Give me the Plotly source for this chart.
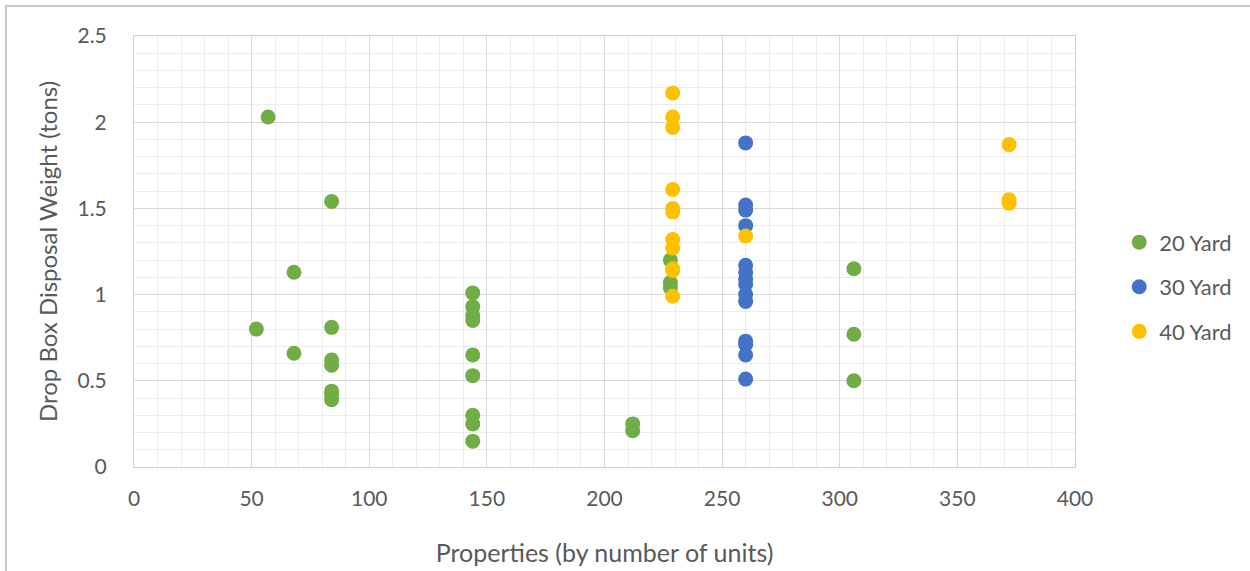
import plotly.graph_objects as go

# ---- data ----
green_x = [57, 84, 68, 52, 68, 84, 84, 84, 84, 84, 84,
           144, 144, 144, 144, 144, 144, 144, 144, 144,
           212, 212, 228, 228, 228, 306, 306, 306]
green_y = [2.03, 1.54, 1.13, 0.80, 0.66, 0.81, 0.62, 0.59, 0.44, 0.42, 0.39,
           1.01, 0.93, 0.88, 0.85, 0.65, 0.53, 0.30, 0.25, 0.15,
           0.25, 0.21, 1.20, 1.07, 1.04, 1.15, 0.77, 0.50]

blue_x = [260] * 14
blue_y = [1.88, 1.52, 1.49, 1.40, 1.17, 1.13, 1.09, 1.06, 1.00, 0.96, 0.73, 0.71, 0.65, 0.51]

yellow_x = [229] * 11 + [260] + [372, 372, 372]
yellow_y = [2.17, 2.03, 1.97, 1.61, 1.50, 1.48, 1.32, 1.27, 1.15, 1.14, 0.99,
            1.34, 1.87, 1.55, 1.53]

series_names = ["20 Yard", "30 Yard", "40 Yard"]
colors = ["#70AD47", "#4472C4", "#FFC000"]

font_family = "Lato, Carlito, Calibri, sans-serif"
text_color = "#595959"

fig = go.Figure()
for name, xs, ys, c in zip(series_names, [green_x, blue_x, yellow_x],
                           [green_y, blue_y, yellow_y], colors):
    fig.add_trace(go.Scatter(x=xs, y=ys, mode="markers", name=name,
                             legendgroup=name,
                             marker=dict(size=15, color=c, line=dict(width=0))))

fig.update_layout(
    width=1250, height=571,
    margin=dict(l=134, r=175, t=36, b=104, autoexpand=False),
    paper_bgcolor="white", plot_bgcolor="white",
    font=dict(family=font_family, color=text_color, size=21),
    legend=dict(x=1.047, y=0.418, xanchor="left", yanchor="middle",
                font=dict(size=22, color=text_color),
                tracegroupgap=13, itemsizing="trace", itemwidth=30,
                bgcolor="rgba(0,0,0,0)"),
    showlegend=True,
)

fig.update_xaxes(
    range=[0, 400], dtick=50, tick0=0,
    showgrid=True, gridcolor="#d9d9d9", gridwidth=1,
    minor=dict(dtick=10, tick0=0, showgrid=True, gridcolor="#ececec", gridwidth=1),
    showline=True, linecolor="#d0d0d0", linewidth=1, mirror=True,
    zeroline=False, ticks="", ticklabelstandoff=13,
    tickfont=dict(size=21, color=text_color),
    title=dict(text="Properties (by number of units)", standoff=35,
               font=dict(size=25, color=text_color)),
)
fig.update_yaxes(
    range=[0, 2.5], dtick=0.5, tick0=0,
    showgrid=True, gridcolor="#d9d9d9", gridwidth=1,
    minor=dict(dtick=0.1, tick0=0, showgrid=True, gridcolor="#ececec", gridwidth=1),
    showline=True, linecolor="#d0d0d0", linewidth=1, mirror=True,
    zeroline=False, ticks="", ticklabelstandoff=22,
    tickfont=dict(size=21, color=text_color),
    title=dict(text="Drop Box Disposal Weight (tons)", standoff=13,
               font=dict(size=24, color=text_color)),
)

# outer chart border (partially visible: top and left edges)
fig.add_shape(type="rect", xref="paper", yref="paper",
              x0=(6 - 134) / 941, x1=(1300 - 134) / 941,
              y0=(467 - 620) / 431, y1=(467 - 6) / 431,
              line=dict(color="#c8c8c8", width=2), fillcolor="rgba(0,0,0,0)",
              layer="below")

fig.write_html("out.html")
